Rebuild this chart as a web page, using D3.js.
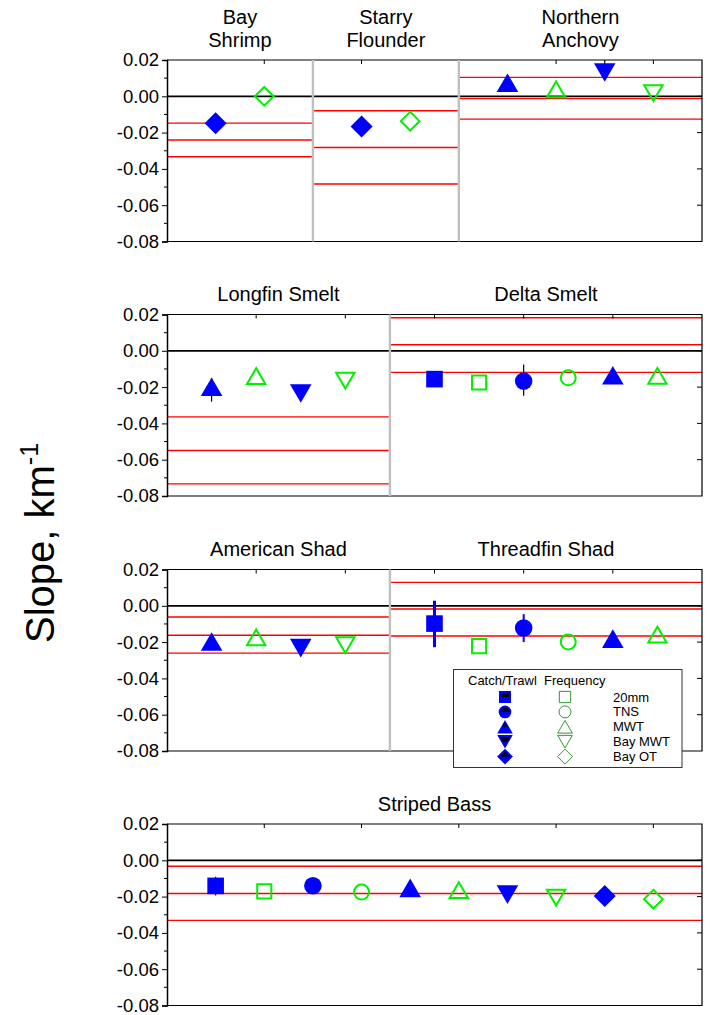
<!DOCTYPE html>
<html><head><meta charset="utf-8">
<script src="https://cdn.jsdelivr.net/npm/d3@7"></script>
<style>body{margin:0;background:#fff}svg{display:block}text{font-family:"Liberation Sans",Arial,sans-serif;fill:#000}</style>
</head><body><svg id="c" width="710" height="1015"></svg>
<script>
// ---------------- data ----------------
const methods = ["20mm", "TNS", "MWT", "Bay MWT", "Bay OT"];
const measures = ["Catch/Trawl", "Frequency"];
const species = ["Bay Shrimp", "Starry Flounder", "Northern Anchovy", "Longfin Smelt", "Delta Smelt", "American Shad", "Threadfin Shad", "Striped Bass"];
const titleLines = [["Bay", "Shrimp"], ["Starry", "Flounder"], ["Northern", "Anchovy"], ["Longfin Smelt"], ["Delta Smelt"], ["American Shad"], ["Threadfin Shad"], ["Striped Bass"]];
const speciesRow = [0, 0, 0, 1, 1, 2, 2, 3];
const speciesMethods = [
  ["Bay OT"], ["Bay OT"], ["MWT", "Bay MWT"], ["MWT", "Bay MWT"], ["20mm", "TNS", "MWT"],
  ["MWT", "Bay MWT"], ["20mm", "TNS", "MWT"], ["20mm", "TNS", "MWT", "Bay MWT", "Bay OT"]
];
const catchSlopes = [
  [-0.0148], [-0.0167], [0.0075, 0.0131], [-0.0198, -0.0235], [-0.0156, -0.0167, -0.0135],
  [-0.0197, -0.0233], [-0.0098, -0.0122, -0.0181], [-0.0141, -0.0140, -0.0152, -0.0189, -0.0197]
];
const freqSlopes = [
  [0.0000], [-0.0137], [0.0038, 0.0018], [-0.0139, -0.0164], [-0.0175, -0.0149, -0.0138],
  [-0.0174, -0.0217], [-0.0222, -0.0199, -0.0159], [-0.0171, -0.0175, -0.0164, -0.0206, -0.0214]
];
const catchErrLow = [
  [null], [null], [null, 0.0090], [-0.0280, null], [null, -0.0248, null],
  [null, null], [-0.0228, -0.0200, null], [-0.0194, null, null, null, null]
];
const catchErrHigh = [
  [null], [null], [null, 0.0250], [-0.0150, null], [null, -0.0075, null],
  [null, null], [0.0028, -0.0046, null], [-0.0091, null, null, null, null]
];
const refLines = [
  [-0.0148, -0.0241, -0.0333], [-0.0080, -0.0282, -0.0483], [0.0104, -0.0013, -0.0126],
  [-0.0364, -0.0549, -0.0733], [0.0182, 0.0033, -0.0119], [-0.0062, -0.0162, -0.0261],
  [0.0129, -0.0018, -0.0166], [-0.0033, -0.0183, -0.0331]
];
const yTicks = [0.02, 0.00, -0.02, -0.04, -0.06, -0.08];
const yMinorTicks = [0.01, -0.01, -0.03, -0.05, -0.07];
const yLabel = "Slope, km";
const yLabelSup = "-1";

// ---------------- drawing ----------------
const svg = d3.select("#c");
const L = 167, R = 702, H = 181.5;
const rowTops = [60, 314.5, 569.5, 824];
const BLUE = "#0000ff", GREEN = "#00f000", RED = "#ff0000", GRAY = "#c0c0c0";

function shapePath(m, s) {
  if (m === "20mm") { const h = 8.3 * s; return `M${-h},${-h}H${h}V${h}H${-h}Z`; }
  if (m === "TNS") { const r = 8.8 * s; return `M${r},0A${r},${r} 0 1,1 ${-r},0A${r},${r} 0 1,1 ${r},0Z`; }
  if (m === "MWT") { const w = 10.8 * s, h = 9.3 * s; return `M0,${-h}L${w},${h}L${-w},${h}Z`; }
  if (m === "Bay MWT") { const w = 10.8 * s, h = 9.3 * s; return `M0,${h}L${w},${-h}L${-w},${-h}Z`; }
  const d = 11 * s; return `M0,${-d}L${d},0L0,${d}L${-d},0Z`;
}

const rows = d3.range(4).map(r => {
  const idx = species.map((s, i) => i).filter(i => speciesRow[i] === r);
  let pos = 0; const panels = [];
  idx.forEach(i => { const n = speciesMethods[i].length * 2; panels.push({ i, start: pos, end: pos + n + 1 }); pos += n + 1; });
  return { r, panels, total: pos };
});

rows.forEach(row => {
  const top = rowTops[row.r];
  const x = d3.scaleLinear().domain([0, row.total]).range([L, R]);
  const y = d3.scaleLinear().domain([-0.08, 0.02]).range([top + H, top]);
  const g = svg.append("g");

  // reference lines
  row.panels.forEach(p => {
    g.selectAll(null).data(refLines[p.i]).enter().append("line")
      .attr("x1", x(p.start)).attr("x2", x(p.end))
      .attr("y1", d => y(d)).attr("y2", d => y(d))
      .attr("stroke", RED).attr("stroke-width", 1.4);
  });
  // zero line
  g.append("line").attr("x1", L).attr("x2", R).attr("y1", y(0)).attr("y2", y(0))
    .attr("stroke", "#000").attr("stroke-width", 1.8);

  // frame
  g.append("path").attr("d", `M${L},${y(0.02)}H${R}V${y(-0.08)}H${L}`)
    .attr("fill", "none").attr("stroke", "#000").attr("stroke-width", 1.2);

  // left axis
  const ax = g.append("g").attr("transform", `translate(${L},0)`)
    .call(d3.axisLeft(y).tickValues(yTicks).tickSize(5).tickPadding(3).tickFormat(d => d.toFixed(2)));
  ax.select(".domain").attr("stroke-width", 1.5);
  ax.selectAll("text").style("font-size", "18.5px").style("font-family", '"Liberation Sans",Arial,sans-serif');
  g.selectAll(null).data(yMinorTicks).enter().append("line")
    .attr("x1", L - 3).attr("x2", L).attr("y1", d => y(d)).attr("y2", d => y(d)).attr("stroke", "#000");
  // right inward ticks
  g.selectAll(null).data(yTicks.slice(1, -1)).enter().append("line")
    .attr("x1", R - 5).attr("x2", R).attr("y1", d => y(d)).attr("y2", d => y(d)).attr("stroke", "#000");
  // top inward ticks at even positions
  const topTicks = d3.range(2, row.total, 2);
  g.selectAll(null).data(topTicks).enter().append("line")
    .attr("x1", d => x(d)).attr("x2", d => x(d)).attr("y1", y(0.02)).attr("y2", y(0.02) + 4).attr("stroke", "#000");

  // points
  row.panels.forEach(p => {
    const sp = p.i;
    speciesMethods[sp].forEach((m, j) => {
      const xc = x(p.start + 1 + 2 * j), xf = x(p.start + 2 + 2 * j);
      const lo = catchErrLow[sp][j], hi = catchErrHigh[sp][j];
      if (lo !== null && hi !== null) {
        const tf = species[sp] === "Threadfin Shad";
        g.append("line").attr("x1", xc).attr("x2", xc)
          .attr("y1", y(Math.max(lo, -0.08))).attr("y2", y(Math.min(hi, 0.02)))
          .attr("stroke", tf ? BLUE : "#000").attr("stroke-width", tf ? (j === 0 ? 3 : 2) : 1.2);
      }
      g.append("path").attr("transform", `translate(${xc},${y(catchSlopes[sp][j])})`)
        .attr("d", shapePath(m, 1)).attr("fill", BLUE);
      g.append("path").attr("transform", `translate(${xf},${y(freqSlopes[sp][j])})`)
        .attr("d", shapePath(m, 0.85)).attr("fill", "none").attr("stroke", GREEN).attr("stroke-width", 2);
    });
  });

  // dividers
  row.panels.slice(1).forEach(p => {
    g.append("line").attr("x1", x(p.start)).attr("x2", x(p.start)).attr("y1", y(0.02)).attr("y2", y(-0.08))
      .attr("stroke", GRAY).attr("stroke-width", 2.4);
  });

  // titles (one text element per panel, lines as tspans)
  row.panels.forEach(p => {
    const lines = titleLines[p.i];
    const cx = (x(p.start) + x(p.end)) / 2;
    const lh = 22.6;
    const t = g.append("text").attr("x", cx).attr("y", top - 13.5 - (lines.length - 1) * lh)
      .attr("text-anchor", "middle").style("font-size", "20px");
    lines.forEach((s, k) => {
      t.append("tspan").attr("x", cx).attr("dy", k === 0 ? 0 : lh).text(s);
    });
  });
});

// y label
const yl = svg.append("text").attr("transform", "translate(54,543) rotate(-90)")
  .attr("text-anchor", "middle").style("font-size", "40px").text(yLabel);
yl.append("tspan").attr("dy", -16).style("font-size", "25px").text(yLabelSup);

// legend
const lg = svg.append("g");
lg.append("rect").attr("x", 453.5).attr("y", 669.5).attr("width", 228.5).attr("height", 98)
  .attr("fill", "#fff").attr("stroke", "#333").attr("stroke-width", 1);
lg.append("text").attr("x", 468).attr("y", 685).style("font-size", "13px").text(measures[0]);
lg.append("text").attr("x", 544).attr("y", 685).style("font-size", "13px").text(measures[1]);
const defs = svg.append("defs");
defs.append("clipPath").attr("id", "tophalf").append("rect")
  .attr("x", -20).attr("y", -20).attr("width", 40).attr("height", 20);
methods.forEach((m, i) => {
  const yy = 697 + i * 14.9;
  const gb = lg.append("g").attr("transform", `translate(505,${yy})`);
  gb.append("path").attr("d", shapePath(m, 0.72)).attr("fill", BLUE);
  gb.append("g").attr("clip-path", "url(#tophalf)")
    .append("path").attr("d", shapePath(m, 0.48)).attr("fill", "#000");
  lg.append("path").attr("transform", `translate(565,${yy})`).attr("d", shapePath(m, 0.68))
    .attr("fill", "none").attr("stroke", "#339933").attr("stroke-width", 1);
  lg.append("text").attr("x", 613).attr("y", yy).attr("dy", "0.35em").style("font-size", "13px").text(m);
});
</script></body></html>
